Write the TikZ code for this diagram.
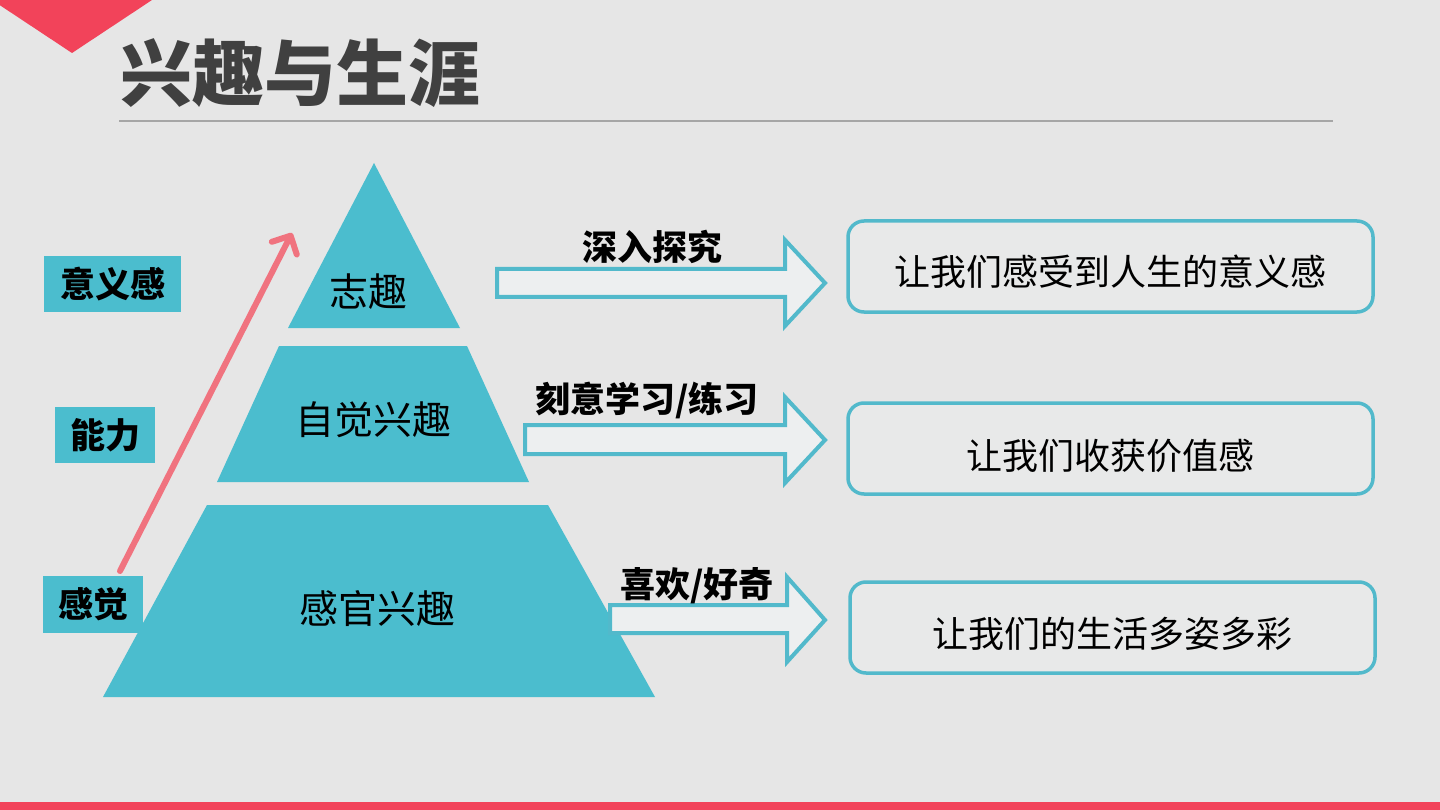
\documentclass[tikz,border=0pt]{standalone}
\usepackage{fontspec}
\setmainfont{Noto Sans CJK SC}
\usetikzlibrary{arrows.meta}
\definecolor{bgc}{HTML}{E6E6E6}
\definecolor{tealc}{HTML}{4BBDCE}
\definecolor{boxc}{HTML}{52B9CB}
\definecolor{redc}{HTML}{F2435A}
\definecolor{pinkc}{HTML}{F0737F}
\definecolor{titlec}{HTML}{404040}
\definecolor{rulec}{HTML}{A6A6A6}
\definecolor{afill}{HTML}{EDEFF0}
\definecolor{boxfill}{HTML}{E8E9E9}
\begin{document}
\begin{tikzpicture}[x=1pt,y=-1pt,
  pyr/.style={fill=tealc},
  lbl/.style={fill=tealc, inner sep=0pt, text=black, font=\fontsize{35}{35}\selectfont\bfseries},
  alabel/.style={inner sep=0pt, text=black, font=\fontsize{35}{35}\selectfont\bfseries},
  ptext/.style={inner sep=0pt, text=black, font=\fontsize{39}{39}\selectfont},
  rbox/.style={draw=boxc, line width=3.5pt, rounded corners=16pt, fill=boxfill, inner sep=0pt},
  rtext/.style={inner sep=0pt, text=black, font=\fontsize{36}{36}\selectfont},
  blockarrow/.style={draw=boxc, line width=4pt, fill=afill, line join=miter}
]
\fill[bgc] (0,0) rectangle (1440,810);
\useasboundingbox (0,0) rectangle (1440,810);
% decorations
\fill[redc] (-8,0) -- (152,0) -- (72,53) -- cycle;
\fill[redc] (0,802) rectangle (1440,810);
% title
\node[inner sep=0pt, text=titlec, font=\fontsize{72}{72}\selectfont\bfseries] (title) at (300,73) {兴趣与生涯};
\draw[rulec, line width=2pt] (119,121) coordinate (rl) -- (1333,121) coordinate (rr);
% pyramid
\fill[pyr] (374,163) -- (460,328) -- (288,328) -- cycle;
\fill[pyr] (279,346) -- (467,346) -- (529,482) -- (217,482) -- cycle;
\fill[pyr] (207,505) -- (548,505) -- (655,697) -- (103,697) -- cycle;
\node[ptext] (p1) at (368,292) {志趣};
\node[ptext] (p2) at (373,420) {自觉兴趣};
\node[ptext] (p3) at (377,609) {感官兴趣};
% left labels
\node[lbl, minimum width=137pt, minimum height=56pt] (l1) at (112.5,284) {意义感};
\node[lbl, minimum width=100pt, minimum height=56pt] (l2) at (105,435) {能力};
\node[lbl, minimum width=100pt, minimum height=57pt] (l3) at (93,604.5) {感觉};
% rising arrow
\coordinate (rs) at (120,571);
\coordinate (re) at (292,233);
\draw[pinkc, line width=6pt, line cap=round, -{Straight Barb[length=14pt, width=28pt, round]}] (rs) -- (re);
% block arrows
\draw[blockarrow] (497,269) -- (785,269) -- (785,240) -- (825,283) -- (785,326) -- (785,297) -- (497,297) -- cycle;
\draw[blockarrow] (525,425) -- (785,425) -- (785,397) -- (825,440) -- (785,483) -- (785,454) -- (525,454) -- cycle;
\draw[blockarrow] (610,605) -- (787,605) -- (787,577) -- (825,620) -- (787,662) -- (787,633) -- (610,633) -- cycle;
\node[alabel] (a1) at (652,247) {深入探究};
\node[alabel] (a2) at (647,400) {刻意学习/练习};
\node[alabel] (a3) at (697,586) {喜欢/好奇};
% right boxes
\node[rbox, minimum width=525pt, minimum height=91pt] (r1) at (1110.5,266.5) {};
\node[rbox, minimum width=525pt, minimum height=91pt] (r2) at (1110.5,448.5) {};
\node[rbox, minimum width=525pt, minimum height=91pt] (r3) at (1112.5,627.5) {};
\node[rtext] (t1) at ([yshift=-5pt]r1.center) {让我们感受到人生的意义感};
\node[rtext] (t2) at ([yshift=-7pt]r2.center) {让我们收获价值感};
\node[rtext] (t3) at ([yshift=-6pt]r3.center) {让我们的生活多姿多彩};
\end{tikzpicture}
\end{document}
